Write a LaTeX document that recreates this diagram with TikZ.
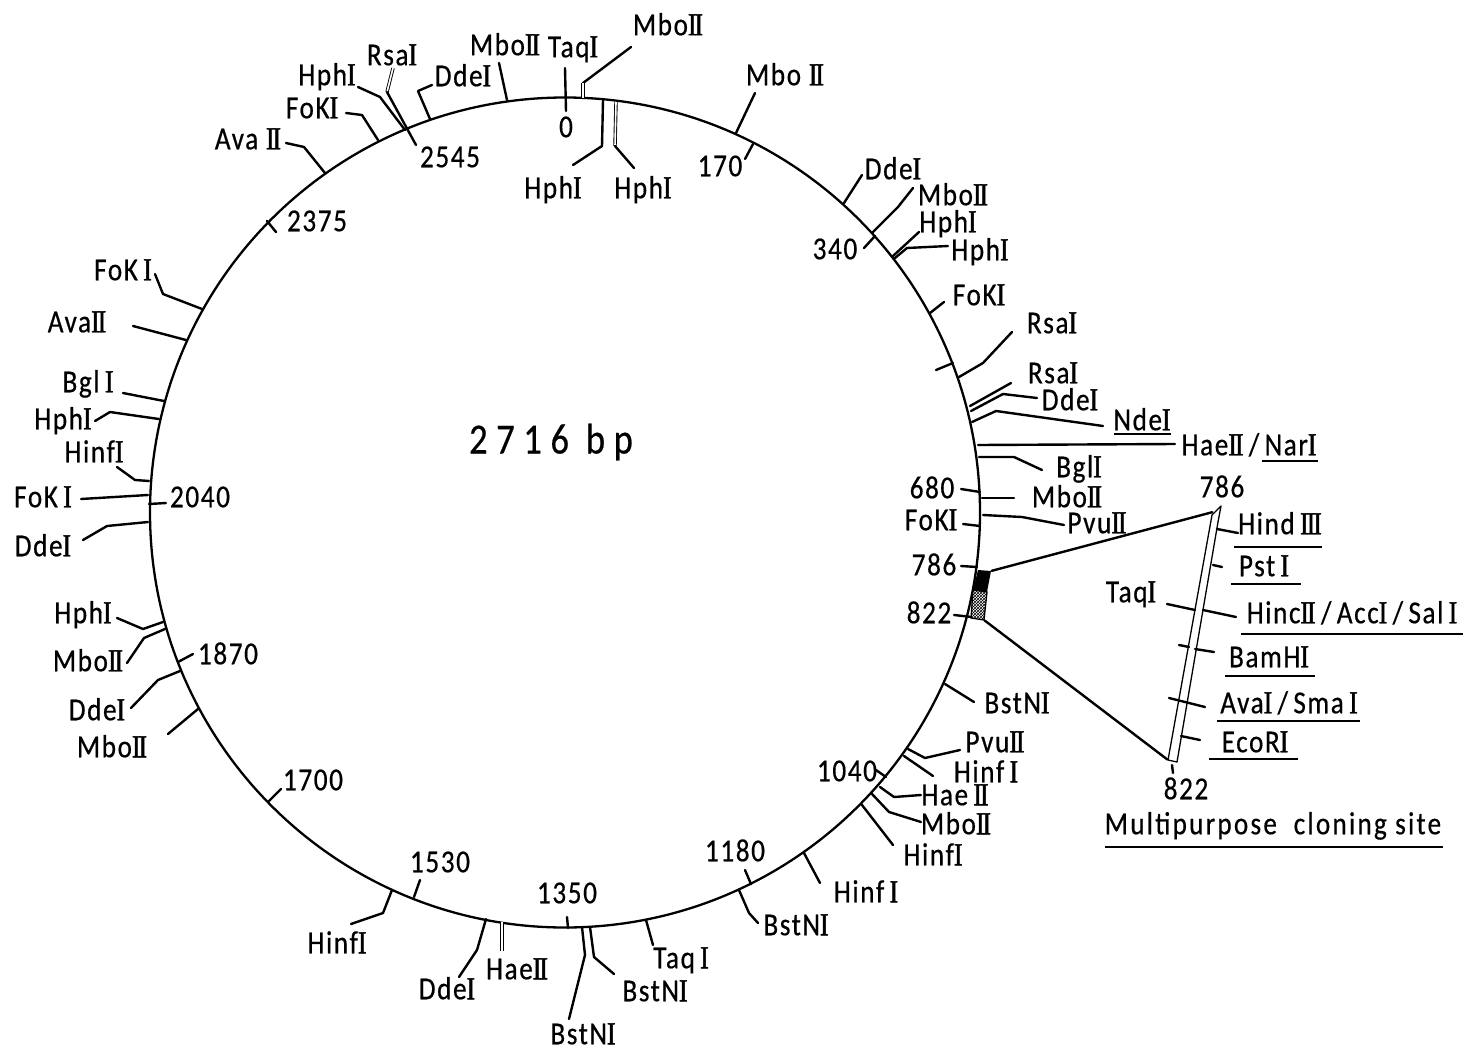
\documentclass[tikz,border=0pt]{standalone}
\usepackage{fontspec}
\usetikzlibrary{patterns}
\setmainfont[FakeStretch=0.85,FakeBold=0.5]{Carlito}
\newfontfamily\rnfont[FakeStretch=0.8,FakeBold=1.5]{Liberation Serif}
\newcommand\rI{{\rnfont I}}
\newcommand\rII{{\rnfont\addfontfeatures{LetterSpace=-6}II}}
\newcommand\rIII{{\rnfont\addfontfeatures{LetterSpace=-6}III}}
\newcommand\sitei[3]{\coordinate (#1a) at (#2); \coordinate (#1b) at (#3); \draw[ln] (#1a) -- (#1b);}
\newcommand\siteii[4]{\coordinate (#1a) at (#2); \coordinate (#1b) at (#3); \coordinate (#1c) at (#4); \draw[ln] (#1a) -- (#1b) -- (#1c);}
\newcommand\lab[3]{\node[lbl] (#1) at (#2) {#3};}
\newcommand\ul[3]{\coordinate (#1a) at (#2); \coordinate (#1b) at (#3); \draw[rule] (#1a) -- (#1b);}
\tikzset{
  ln/.style={line width=2.4pt,line join=round,line cap=round},
  hollow/.style={line width=0.9pt,double=white,double distance=1.6pt},
  rule/.style={line width=2.4pt},
  lbl/.style={inner sep=0pt,text height=20.5pt,text depth=0pt,font=\fontsize{32}{34}\selectfont\addfontfeatures{LetterSpace=5}},
  big/.style={inner sep=0pt,text height=27pt,text depth=0pt,font=\fontsize{43}{45}\selectfont\addfontfeatures{LetterSpace=20}}
}
\begin{document}
\begin{tikzpicture}[x=1pt,y=-1pt]
\useasboundingbox (0,0) rectangle (1464,1049);
\fill[white] (0,0) rectangle (1464,1049);
\node[circle,draw,line width=2.3pt,minimum size=830pt,inner sep=0pt] (ring) at (565,512.5) {};
\node[big] (size) at (551,440) {2716 bp};
% top
\lab{avab}{248,139}{Ava \rII} \siteii{s1}{286,143}{304,147}{325,173}
\lab{foka}{312,108}{FoK\rI} \siteii{s2}{346,113}{362,115}{378,140}
\lab{hpha}{327,75}{Hph\rI} \siteii{s3}{358,87}{380,97}{405,130}
\lab{rsaa}{392,55}{Rsa\rI} \coordinate (s4a) at (393,68); \coordinate (s4b) at (387,92); \coordinate (s4c) at (416,145); \draw[hollow] (s4a) -- (s4b); \draw[ln] (s4b) -- (s4c);
\lab{n2545}{450,157}{2545}
\lab{ddea}{463,76}{Dde\rI} \siteii{s5}{432,85}{418,91}{430,119}
\lab{mboa}{505,45}{Mbo\rII} \sitei{s6}{499,63}{507,100}
\lab{taqa}{573,47}{Taq\rI} \sitei{s7}{565,68}{566,111}
\lab{zero}{566,127}{0}
\lab{mbob}{668,25}{Mbo\rII} \coordinate (s8a) at (631,47); \coordinate (s8b) at (583,83); \coordinate (s8c) at (583,98); \draw[ln] (s8a) -- (s8b); \draw[hollow] (s8b) -- (s8c);
\lab{hphb}{553,188}{Hph\rI} \siteii{s9}{603,100}{602,146}{573,165}
\lab{hphc}{643,188}{Hph\rI} \coordinate (s10a) at (616,102); \coordinate (s10b) at (615,146); \coordinate (s10c) at (634,168); \draw[hollow] (s10a) -- (s10b); \draw[ln] (s10b) -- (s10c);
\lab{mboc}{785,75}{Mbo \rII} \sitei{s11}{755,93}{736,133}
\lab{n170}{720,166}{170} \sitei{s12}{745,159}{753,144}
% upper right
\lab{ddeb}{893,169}{Dde\rI} \sitei{s13}{862,175}{844,203}
\lab{mbod}{953,195}{Mbo\rII} \siteii{s14}{913,188}{898,207}{873,232}
\lab{n340}{835,249}{340} \sitei{s15}{864,248}{875,236}
\lab{hphd}{948,222}{Hph\rI} \sitei{s16}{919,232}{893,256}
\lab{hphe}{980,250}{Hph\rI} \siteii{s17}{948,246}{907,248}{895,258}
\lab{fokb}{979,295}{FoK\rI} \sitei{s18}{944,302}{930,313}
\lab{rsab}{1052,323}{Rsa\rI} \siteii{s19}{1012,332}{983,363}{959,377}
\sitei{t1}{936,370}{953,363}
\lab{rsac}{1053,373}{Rsa\rI} \sitei{s20}{1011,383}{970,406}
\lab{ddec}{1070,400}{Dde\rI} \siteii{s21}{1037,398}{1003,394}{971,411}
\lab{ndea}{1142,420}{Nde\rI} \siteii{s22}{1103,426}{996,411}{972,422} \ul{u1}{1114,434}{1171,434}
\lab{haea}{1249,445}{Hae\rII\,/\,Nar\rI} \sitei{s23}{1175,444}{978,445} \ul{u2}{1262,461}{1318,461}
\lab{bgla}{1079,467}{Bgl\rI} \siteii{s24}{1042,470}{1014,457}{979,457}
\lab{n680}{932,488}{680} \sitei{s25}{961,489}{980,492}
\lab{mboe}{1067,497}{Mbo\rII} \sitei{s26}{1014,498}{982,498}
\lab{fokc}{931,520}{FoK\rI} \sitei{s27}{963,524}{980,526}
\lab{pvua}{1097,523}{Pvu\rII} \siteii{s28}{1064,525}{1022,517}{983,515}
\lab{n786}{934,565}{786} \sitei{s29}{961,566}{977,567}
\lab{n822}{929,613}{822} \sitei{s30}{954,615}{972,617}
% cloning site
\fill[black] (978,570) -- (991,571) -- (987,592) -- (973,590) -- cycle;
\fill[white] (973,590) -- (987,592) -- (984,620) -- (971,618) -- cycle;
\fill[pattern=crosshatch,pattern color=black] (973,590) -- (987,592) -- (984,620) -- (971,618) -- cycle;
\draw[line width=1.3pt] (973,590) -- (987,592) -- (984,620) -- (971,618) -- cycle;
\node[inner sep=0pt] (boxtop) at (991,571) {};
\node[inner sep=0pt] (boxbot) at (984,620) {};
\node[inner sep=0pt] (bartop) at (1213,512) {};
\node[inner sep=0pt] (barbot) at (1168,760) {};
\draw[ln] (boxtop) -- (bartop);
\draw[ln] (boxbot) -- (barbot);
\draw[line width=1.3pt,line join=round] (1212,515) -- (1221,506) -- (1218,522) -- (1177,762) -- (1168,760) -- cycle;
\sitei{s31}{1172,765}{1173,773}
\lab{n786b}{1222,487}{786}
\lab{hind}{1280,524}{Hind\,\rIII} \sitei{s32}{1217,529}{1238,533} \ul{u3}{1234,547}{1322,547}
\lab{pst}{1264,566}{Pst\,\rI} \sitei{s33}{1213,565}{1222,567} \ul{u4}{1231,584}{1301,584}
\lab{taqb}{1131,592}{Taq\rI} \sitei{s34}{1167,604}{1195,610}
\lab{hinc}{1352,613}{Hinc\rII\,/\,Acc\rI\,/\,Sal\,\rI} \sitei{s35}{1203,610}{1236,617} \ul{u5}{1241,634}{1463,634}
\lab{bam}{1269,657}{BamH\rI} \sitei{s36}{1179,645}{1189,647} \sitei{s37}{1195,649}{1214,652} \ul{u6}{1225,676}{1315,676}
\lab{ava}{1289,703}{Ava\rI\,/\,Sma\,\rI} \sitei{s38}{1169,698}{1205,707} \ul{u7}{1217,721}{1360,721}
\lab{eco}{1255,742}{EcoR\rI} \sitei{s39}{1181,736}{1200,740} \ul{u8}{1209,759}{1298,759}
\lab{n822b}{1186,789}{822}
\lab{multi}{1273,824}{\addfontfeatures{LetterSpace=7}Multipurpose\ \ cloning site} \ul{u9}{1105,847}{1443,847}
% lower right
\lab{bsta}{1017,703}{BstN\rI} \sitei{s40}{974,702}{945,684}
\lab{pvub}{995,742}{Pvu\rII} \siteii{s41}{960,750}{925,758}{908,749}
\lab{hinfa}{986,772}{Hinf\,\rI} \sitei{s42}{933,776}{904,756}
\lab{n1040}{847,771}{1040} \sitei{s43}{876,770}{886,777}
\lab{haeb}{955,795}{Hae\,\rII} \siteii{s44}{921,795}{894,797}{880,787}
\lab{mbof}{956,824}{Mbo\rII} \siteii{s45}{921,822}{889,812}{872,794}
\lab{hinfb}{933,855}{Hinf\rI} \sitei{s46}{893,845}{862,805}
\lab{hinfc}{866,892}{Hinf\,\rI} \sitei{s47}{820,883}{804,853}
% bottom
\lab{hinfd}{337,943}{Hinf\rI} \siteii{s48}{351,924}{383,913}{392,890}
\lab{n1530}{440,862}{1530} \sitei{s49}{420,880}{414,897}
\lab{ddee}{447,989}{Dde\rI} \siteii{s50}{459,977}{477,950}{486,919}
\lab{haec}{517,969}{Hae\rII} \coordinate (s51a) at (502,951); \coordinate (s51b) at (502,922); \draw[hollow] (s51a) -- (s51b);
\lab{n1350}{567,893}{1350} \sitei{s52}{567,917}{568,928}
\lab{bstb}{583,1034}{BstN\rI} \siteii{s53}{569,1019}{585,955}{582,927}
\lab{bstc}{655,991}{BstN\rI} \siteii{s54}{614,974}{594,957}{590,927}
\lab{taqc}{681,958}{Taq\,\rI} \sitei{s55}{653,945}{646,920}
\lab{bstd}{796,925}{BstN\rI} \siteii{s56}{758,923}{749,913}{739,890}
\lab{n1180}{735,851}{1180} \sitei{s57}{745,870}{751,884}
% left
\lab{n2375}{317,221}{2375} \sitei{s58}{267,221}{276,232}
\lab{fokd}{123,270}{FoK\,\rI} \siteii{s59}{155,274}{163,294}{202,309}
\lab{avac}{77,322}{Ava\rII} \sitei{s60}{133,326}{186,340}
\lab{bglb}{88,382}{Bgl\,\rI} \sitei{s61}{123,393}{164,401}
\lab{hphf}{63,419}{Hph\rI} \siteii{s62}{95,421}{110,412}{159,419}
\lab{hinfe}{94,452}{Hinf\rI} \siteii{s63}{117,467}{135,480}{149,481}
\lab{foke}{43,497}{FoK\,\rI} \sitei{s64}{81,499}{148,495}
\lab{n2040}{200,497}{2040} \sitei{s65}{149,504}{166,503}
\lab{ddef}{43,546}{Dde\rI} \siteii{s66}{83,540}{107,526}{148,522}
\lab{hphg}{83,613}{Hph\rI} \siteii{s67}{117,618}{143,629}{163,622}
\lab{mbog}{88,661}{Mbo\rII} \siteii{s68}{127,663}{144,638}{165,629}
\lab{n1870}{228,654}{1870} \sitei{s69}{178,662}{193,654}
\lab{ddeg}{97,710}{Dde\rI} \siteii{s70}{131,708}{158,680}{180,671}
\lab{mboh}{112,747}{Mbo\rII} \sitei{s71}{168,734}{198,709}
\lab{n1700}{313,780}{1700} \sitei{s72}{268,802}{281,789}
\end{tikzpicture}
\end{document}
